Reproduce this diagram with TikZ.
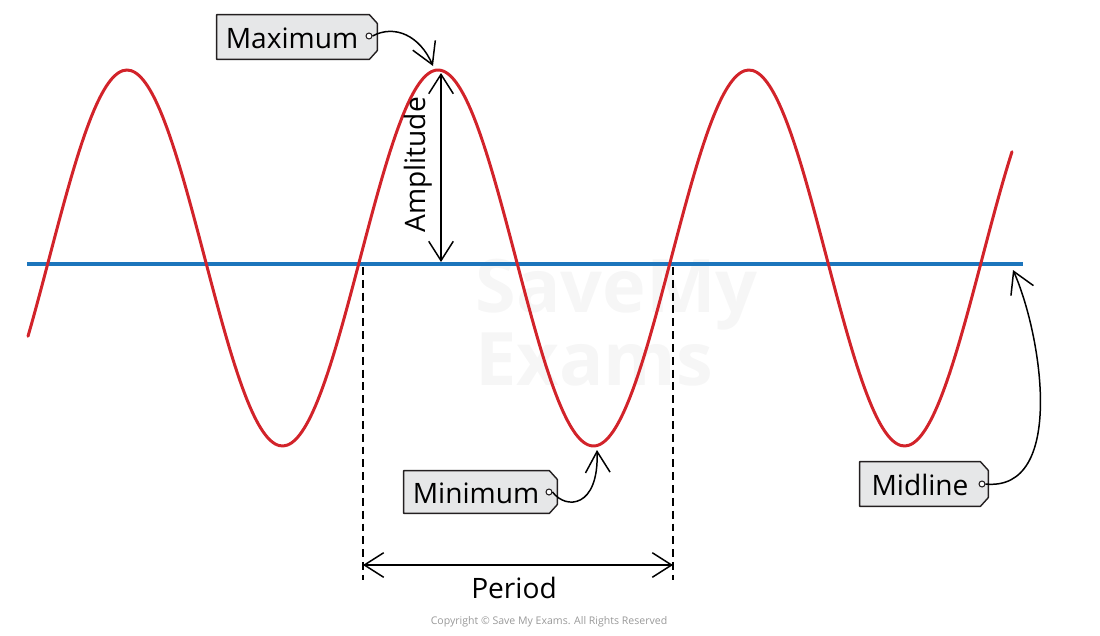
\documentclass[tikz,border=0pt]{standalone}
\usepackage{fontspec}
\setmainfont{Open Sans}
\usetikzlibrary{arrows.meta}
\definecolor{wavered}{HTML}{D2232A}
\definecolor{midblue}{HTML}{1C75BC}
\definecolor{tagfill}{HTML}{E6E7E8}
\definecolor{tagline}{HTML}{231F20}
\newcommand\tagoutline[1]{\path[tagdraw] (#1.south west) -- (#1.north west) -- ([xshift=-4.5pt]#1.north east) -- ([yshift=-5pt]#1.north east) -- ([yshift=5pt]#1.south east) -- ([xshift=-4.5pt]#1.south east) -- cycle;}
\begin{document}
\begin{tikzpicture}[x=0.02cm,y=-0.02cm,
  lbl/.style={font=\fontsize{16}{18}\selectfont, inner sep=0pt, text=black},
  tagshape/.style={inner sep=0pt, minimum height=0.86cm},
  tagdraw/.style={draw=tagline, fill=tagfill, line width=0.8pt, line join=round},
  hole/.style={circle, draw=tagline, fill=white, line width=0.6pt, inner sep=0pt, minimum size=3.4pt},
  ann/.style={draw=black, line width=0.85pt, -{Straight Barb[length=12pt,width=14pt]}},
  dim/.style={draw=black, line width=0.85pt, {Straight Barb[length=11pt,width=14pt]}-{Straight Barb[length=11pt,width=14pt]}},
  guide/.style={draw=black, line width=0.85pt, dash pattern=on 4.5pt off 2.8pt},
  wm/.style={font=\fontsize{42}{42}\selectfont\bfseries, text=black!3.5, inner sep=0pt},
]
\useasboundingbox (0,0) rectangle (1100,636);
% watermark
\node[wm, anchor=base west] (wm1) at (475,312) {SaveMy};
\node[wm, anchor=base west] (wm2) at (475,385) {Exams};
% midline
\coordinate (mlL) at (27,264);
\coordinate (mlR) at (1023,264);
\draw[midblue, line width=2pt] (mlL) -- (mlR);
% sine wave
\draw[wavered, line width=1.7pt, line cap=round] plot[domain=28:1012, samples=240, smooth] (\x, {258 - 188*cos((\x-438)/311*360)});
% amplitude
\coordinate (peak) at (441,73);
\coordinate (ampbase) at (441,262);
\draw[dim] (ampbase) -- (peak);
\node[lbl, rotate=90] (amp) at (418,165) {Amplitude};
% period
\coordinate (pL) at (363,267);
\coordinate (pR) at (673,267);
\coordinate (pLb) at (363,580);
\coordinate (pRb) at (673,580);
\coordinate (pLa) at (363,565);
\coordinate (pRa) at (673,565);
\draw[guide] (pL) -- (pLb);
\draw[guide] (pR) -- (pRb);
\draw[dim] (pLa) -- (pRa);
\node[lbl] (period) at (514,588) {Period};
% Maximum tag
\node[tagshape, minimum width=3.2cm, minimum height=0.88cm] (maxtag) at (297,37) {};
\tagoutline{maxtag}
\node[lbl] (maxtext) at (292,38) {Maximum};
\node[hole] (maxhole) at (369,36) {};
\coordinate (maxtip) at (433,66);
\draw[ann] (maxhole.east) .. controls (395,24) and (420,36) .. (maxtip);
% Minimum tag
\node[tagshape, minimum width=3.06cm, minimum height=0.84cm] (mintag) at (480.5,492) {};
\tagoutline{mintag}
\node[lbl] (mintext) at (476,493) {Minimum};
\node[hole] (minhole) at (549,492) {};
\coordinate (mintip) at (597,450);
\draw[ann] (minhole.east) .. controls (566,510) and (599,508) .. (mintip);
% Midline tag
\node[tagshape, minimum width=2.56cm, minimum height=0.88cm] (midtag) at (924,484) {};
\tagoutline{midtag}
\node[lbl] (midtext) at (920,485) {Midline};
\node[hole] (midhole) at (982,484) {};
\coordinate (midtip) at (1013,270);
\draw[ann] (midhole.east) .. controls (1066,492) and (1042,335) .. (midtip);
% copyright
\node[font=\fontsize{6}{7}\selectfont, text=black!40, inner sep=0pt] (copy) at (549,622) {Copyright © Save My Exams. All Rights Reserved};
\end{tikzpicture}
\end{document}
